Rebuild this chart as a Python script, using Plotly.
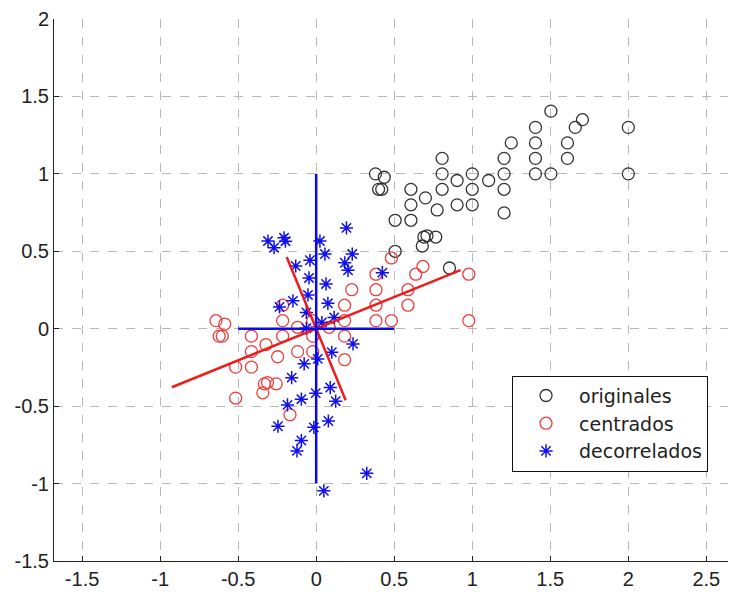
import plotly.graph_objects as go

# originales (black circles)
orig_x = [0.38, 0.436, 0.40, 0.42, 0.506, 0.607, 0.607, 0.607, 0.70, 0.807, 0.807, 0.807, 0.775, 0.903,
          0.903, 1.0, 1.0, 1.0, 1.105, 1.204, 1.204, 1.204, 1.204, 1.25, 1.405, 1.405, 1.405, 1.405,
          1.504, 1.504, 1.61, 1.61, 1.66, 1.706, 2.0, 2.0, 0.69, 0.71, 0.766, 0.68, 0.506, 0.854]
orig_y = [1.0, 0.978, 0.90, 0.90, 0.70, 0.90, 0.80, 0.70, 0.845, 1.10, 1.0, 0.90, 0.767, 0.957,
          0.80, 1.0, 0.90, 0.80, 0.957, 1.10, 1.0, 0.90, 0.748, 1.20, 1.30, 1.20, 1.10, 1.0,
          1.405, 1.0, 1.20, 1.10, 1.30, 1.35, 1.30, 1.0, 0.592, 0.60, 0.592, 0.534, 0.50, 0.392]

# centrados (red circles)
cent_x = [-0.642, -0.586, -0.622, -0.602, -0.516, -0.415, -0.415, -0.415, -0.322, -0.215, -0.215, -0.215,
          -0.247, -0.119, -0.119, -0.022, -0.022, -0.022, 0.083, 0.182, 0.182, 0.182, 0.182, 0.228,
          0.383, 0.383, 0.383, 0.383, 0.482, 0.482, 0.588, 0.588, 0.638, 0.684, 0.978, 0.978,
          -0.332, -0.312, -0.256, -0.342, -0.516, -0.168]
cent_y = [0.052, 0.030, -0.048, -0.048, -0.248, -0.048, -0.148, -0.248, -0.103, 0.152, 0.052, -0.048,
          -0.181, 0.009, -0.148, 0.052, -0.048, -0.148, 0.009, 0.152, 0.052, -0.048, -0.200, 0.252,
          0.352, 0.252, 0.152, 0.052, 0.457, 0.052, 0.252, 0.152, 0.352, 0.402, 0.352, 0.052,
          -0.356, -0.348, -0.356, -0.414, -0.448, -0.556]

# decorrelados (blue stars)
deco_x = [-0.309, -0.27, -0.206, -0.197, -0.131, -0.04, -0.046, -0.053, -0.149, -0.235, -0.063, 0.024,
          0.056, 0.063, 0.075, 0.036, 0.194, 0.231, 0.183, 0.204, 0.424, 0.115, -0.063, 0.236,
          0.1, 0.01, -0.077, -0.157, 0.09, -0.003, -0.095, 0.125, -0.184, -0.245, 0.078, -0.015,
          -0.095, -0.123, 0.324, 0.049]
deco_y = [0.566, 0.523, 0.587, 0.565, 0.405, 0.442, 0.328, 0.218, 0.18, 0.141, 0.105, 0.566,
          0.482, 0.289, 0.164, 0.04, 0.651, 0.482, 0.426, 0.377, 0.362, 0.073, 0.003, -0.098,
          -0.152, -0.195, -0.227, -0.316, -0.38, -0.416, -0.455, -0.468, -0.492, -0.63, -0.596, -0.637,
          -0.722, -0.789, -0.934, -1.047]

# principal axes
red_long_x = [-0.925, 0.925]
red_long_y = [-0.378, 0.378]
red_short_x = [-0.189, 0.189]
red_short_y = [0.4625, -0.4625]
blue_h_x = [-0.5, 0.5]
blue_h_y = [0, 0]
blue_v_x = [0, 0]
blue_v_y = [-1, 1]

x_ticks = [-1.5, -1, -0.5, 0, 0.5, 1, 1.5, 2, 2.5]
y_ticks = [-1.5, -1, -0.5, 0, 0.5, 1, 1.5, 2]

FONT = "Liberation Sans, Arial, sans-serif"
LEG_FONT = "DejaVu Sans, sans-serif"

fig = go.Figure()
fig.add_trace(go.Scatter(x=orig_x, y=orig_y, mode="markers", name="originales",
                         marker=dict(symbol="circle-open", size=12, color="#333333", line=dict(width=1.3))))
fig.add_trace(go.Scatter(x=cent_x, y=cent_y, mode="markers", name="centrados",
                         marker=dict(symbol="circle-open", size=12, color="#f03c3c", line=dict(width=1.3))))
fig.add_trace(go.Scatter(x=deco_x, y=deco_y, mode="markers", name="decorrelados",
                         marker=dict(symbol="asterisk-open", size=11, color="#1010ee", line=dict(width=1.5, color="#1010ee"))))
for lx, ly, c in [(red_long_x, red_long_y, "#ee1c1c"), (red_short_x, red_short_y, "#ee1c1c"),
                  (blue_h_x, blue_h_y, "#0a0ae6"), (blue_v_x, blue_v_y, "#0a0ae6")]:
    fig.add_trace(go.Scatter(x=lx, y=ly, mode="lines", showlegend=False,
                             line=dict(color=c, width=2.5), hoverinfo="skip"))

axis_common = dict(showgrid=True, gridcolor="#b8b8b8", griddash="dash", gridwidth=1,
                   zeroline=False, showline=True, linecolor="#222222", linewidth=1,
                   ticks="inside", ticklen=5, tickcolor="#222222", mirror=False,
                   automargin=False, ticklabeloverflow="allow",
                   tickfont=dict(family=FONT, size=20, color="#222222"))
fig.update_xaxes(range=[-1.68, 2.69], tickvals=x_ticks, ticktext=[f"{v:g}" for v in x_ticks], **axis_common)
fig.update_yaxes(range=[-1.5, 2.0], tickvals=y_ticks, ticktext=[f"{v:g}" for v in y_ticks], **axis_common)

# page has an 8px body margin; compensate so the plot area lands where the reference has it
fig.update_layout(
    width=728, height=586,
    margin=dict(l=46, r=0, t=11, b=33),
    plot_bgcolor="white", paper_bgcolor="white",
    font=dict(family=FONT, size=20, color="#222222"),
    legend=dict(x=0.6716, y=0.342, xanchor="left", yanchor="top",
                bgcolor="white", bordercolor="#111111", borderwidth=1,
                font=dict(family=LEG_FONT, size=19, color="#222222"),
                itemwidth=56, tracegroupgap=0),
    showlegend=True,
)

fig.write_html("out.html")
